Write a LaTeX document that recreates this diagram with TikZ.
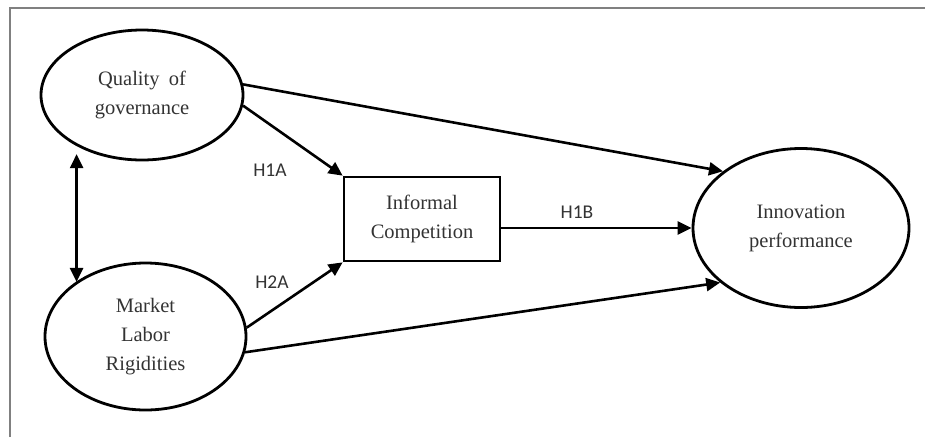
\documentclass[tikz,border=0pt]{standalone}
\usepackage{fontspec}
\setmainfont{Liberation Serif}
\newfontfamily\hypfont{Carlito}
\usepackage{xcolor}
\usetikzlibrary{arrows.meta, shapes.geometric}
\definecolor{textgray}{HTML}{333333}
\tikzset{
	construct/.style={ellipse, draw, line width=2.8pt, inner sep=0pt, align=center, text=textgray, font=\fontsize{20.5}{29}\selectfont},
	mediator/.style={rectangle, draw, line width=2.7pt, inner sep=0pt, align=center, text=textgray, font=\fontsize{20.5}{29}\selectfont},
	hyp/.style={text=textgray, font=\hypfont\fontsize{19.5}{22}\selectfont},
	path/.style={line width=2.6pt, -{Triangle[length=14pt, width=13pt]}}
}

\begin{document}
\begin{tikzpicture}[x=1pt, y=-1pt]
	% Frame and size:
	\useasboundingbox (0,0) rectangle (925,437);
	\draw[gray, line width=1.3pt] (10,437) |- (925,8);
	% Constructs:
	\node[construct, minimum width=202pt, minimum height=130pt](QG) at (142,95){Quality\hspace{0.45em}of\\governance};
	\node[construct, minimum width=201pt, minimum height=147pt](MLR) at (145.5,336.5){Market\\Labor\\Rigidities};
	\node[construct, minimum width=216pt, minimum height=159pt](IP) at (801,228){Innovation\\performance};
	\node[mediator, minimum width=156pt, minimum height=84pt](IC) at (422,219){Informal\\Competition};
	% Paths:
	\draw[path] (QG.-6) -- (IC.north west);
	\draw[path] (MLR.5) -- (IC.south west);
	\draw[path] (QG.6) -- (IP.144);
	\draw[path] (MLR.-9) -- (IP.214);
	\draw[path] (IP.west -| IC.east) -- (IP.west);
	\draw[path, {Triangle[length=14pt, width=13pt]}-{Triangle[length=14pt, width=13pt]}] ([yshift=-8pt]QG.218) -- (QG.218 |- MLR.142);
	% Hypotheses:
	\node[hyp](H1A) at (270,170){H1A};
	\node[hyp](H2A) at (272,282){H2A};
	\node[hyp](H1B) at (577,212){H1B};
\end{tikzpicture}
\end{document}
